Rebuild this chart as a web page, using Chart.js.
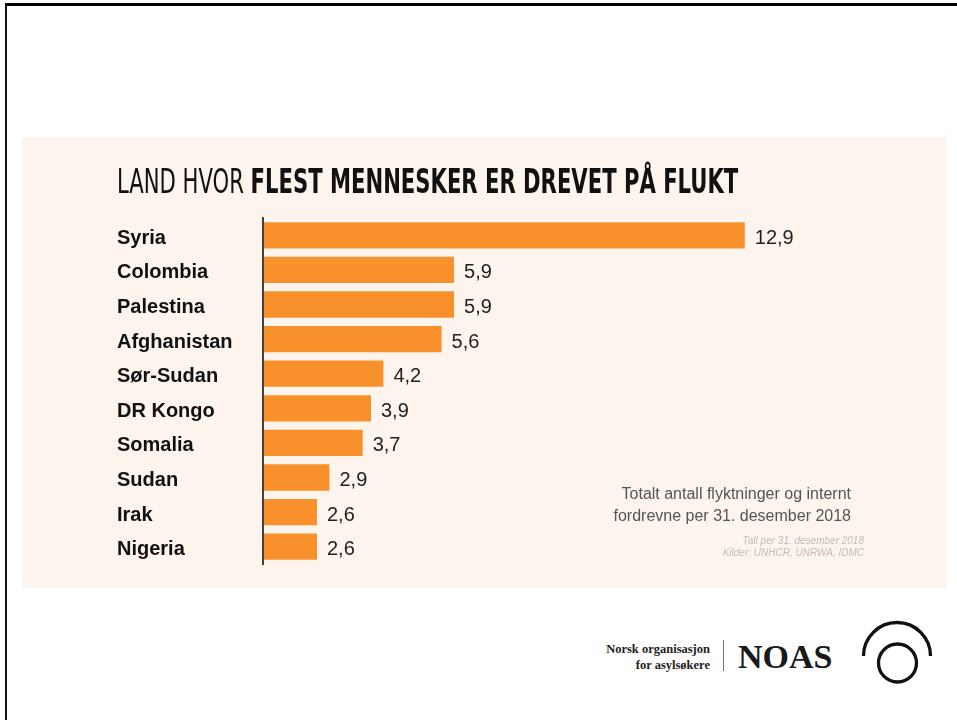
<!DOCTYPE html>
<html>
<head>
<meta charset="utf-8">
<script src="https://cdn.jsdelivr.net/npm/chart.js@4.4.1/dist/chart.umd.min.js"></script>
<style>
    body { margin: 0; width: 957px; height: 720px; background: #fff; position: relative; overflow: hidden; font-family: "Liberation Sans", Arial, sans-serif; }
    .frameTop { position: absolute; left: 5px; top: 3px; width: 952px; height: 3px; background: #000; }
    .frameLeft { position: absolute; left: 5px; top: 3px; width: 2px; height: 717px; background: #111; }
    .panel { position: absolute; left: 22px; top: 137px; width: 925px; height: 451px; background: #fdf4ed; }
    .title { position: absolute; left: 117px; top: 165px; font-family: "Liberation Sans Narrow", "DejaVu Sans Condensed", "Liberation Sans", sans-serif; font-size: 33px; line-height: 33px; color: #111; white-space: nowrap; transform-origin: left top; }
    .title b { font-weight: 700; }
    .note { position: absolute; right: 106px; top: 483px; text-align: right; font-size: 16px; line-height: 22px; color: #555; }
    .source { position: absolute; right: 93px; top: 535px; text-align: right; font-size: 10px; line-height: 12px; font-style: italic; color: #c3bbb4; }
    .org { position: absolute; right: 247px; top: 641px; text-align: right; font-family: "Liberation Serif", serif; font-weight: bold; font-size: 12.5px; line-height: 16px; color: #222; }
    .divider { position: absolute; left: 723px; top: 640px; width: 1px; height: 31px; background: #777; }
    .noas { position: absolute; left: 738px; top: 638px; font-family: "Liberation Serif", serif; font-weight: bold; font-size: 34px; line-height: 38px; color: #1a1a1a; }
    .mark { position: absolute; left: 858px; top: 618px; }
</style>
</head>
<body>

<div class="frameTop"></div>
<div class="frameLeft"></div>

<div class="panel">
    <canvas id="refugeeChart" width="925" height="451"></canvas>
</div>

<div class="title" id="title">LAND HVOR <b>FLEST MENNESKER ER DREVET PÅ FLUKT</b></div>

<div class="note">Totalt antall flyktninger og internt<br>fordrevne per 31. desember 2018</div>
<div class="source">Tall per 31. desember 2018<br>Kilder: UNHCR, UNRWA, IDMC</div>

<div class="org">Norsk organisasjon<br>for asylsøkere</div>
<div class="divider"></div>
<div class="noas">NOAS</div>
<svg class="mark" width="80" height="75" viewBox="0 0 80 75">
    <path d="M 5.5 38 A 33.5 33.5 0 0 1 72.5 38" fill="none" stroke="#111" stroke-width="3.3"/>
    <circle cx="39.5" cy="45" r="19" fill="none" stroke="#111" stroke-width="3.3"/>
</svg>

<script>

const countries = ["Syria", "Colombia", "Palestina", "Afghanistan", "Sør-Sudan",
    "DR Kongo", "Somalia", "Sudan", "Irak", "Nigeria"];

const refugees = [12.9, 5.9, 5.9, 5.6, 4.2, 3.9, 3.7, 2.9, 2.6, 2.6];


// squeeze the title to the width of the original
const title = document.getElementById("title");
title.style.transform = "scaleX(" + (621 / title.offsetWidth) + ")";


const valueLabels = {
    id: "valueLabels",
    afterDatasetsDraw(chart) {
        const ctx = chart.ctx;
        const meta = chart.getDatasetMeta(0);
        ctx.save();
        ctx.font = "20px 'Liberation Sans', Arial, sans-serif";
        ctx.fillStyle = "#222";
        ctx.textAlign = "left";
        ctx.textBaseline = "middle";
        meta.data.forEach((bar, i) => {
            const text = refugees[i].toFixed(1).replace(".", ",");
            ctx.fillText(text, bar.x + 10, bar.y + 3);
        });
        ctx.restore();
    }
};


new Chart(document.getElementById("refugeeChart"), {

    type: "bar",

    data: {
        labels: countries,
        datasets: [{
            label: "Millioner på flukt",
            data: refugees,
            backgroundColor: "#f8912c",
            borderWidth: 0,
            barPercentage: 0.76,
            categoryPercentage: 1
        }]
    },

    options: {
        indexAxis: "y",
        responsive: false,
        devicePixelRatio: 1,
        animation: false,
        layout: {
            padding: { left: 95, right: 115, top: 81, bottom: 24 }
        },
        plugins: {
            legend: { display: false },
            tooltip: { enabled: false }
        },
        scales: {
            x: {
                display: false,
                min: 1.3,
                max: 15
            },
            y: {
                grid: { display: false },
                border: { display: true, color: "#4a3d32", width: 2, z: 1 },
                ticks: {
                    crossAlign: "far",
                    padding: 0,
                    labelOffset: 3,
                    color: "#111",
                    font: { family: "'Liberation Sans', Arial, sans-serif", size: 20, weight: "bold" }
                },
                afterFit(scale) {
                    scale.width = 146;
                }
            }
        }
    },

    plugins: [valueLabels]

});

</script>
</body>
</html>
